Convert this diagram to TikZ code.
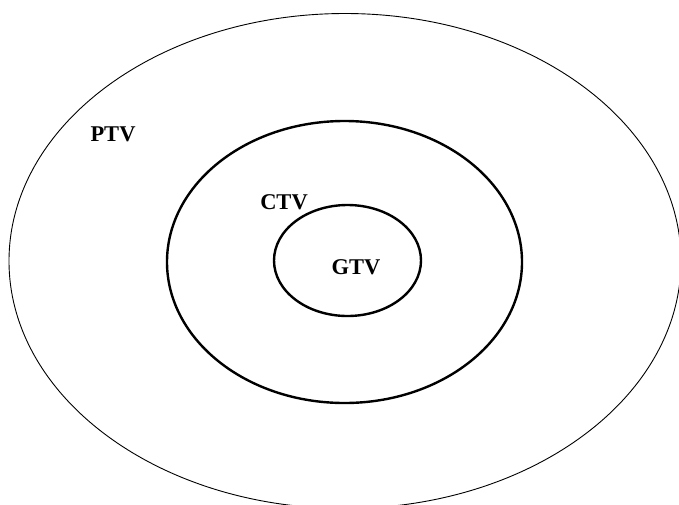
\documentclass[tikz,border=0pt]{standalone}
\usepackage{fontspec}
\setmainfont{Liberation Serif}
\usetikzlibrary{calc}

\begin{document}
\begin{tikzpicture}[x=1pt,y=-1pt,inner sep=0pt,
  lbl/.style={font=\fontsize{22.5}{26}\selectfont\bfseries}]
\useasboundingbox (0,0) rectangle (679,504);
\clip (0,0) rectangle (679,504);
\coordinate (c0) at (345, 261);
\coordinate (c1) at (344.5, 262);
\coordinate (c2) at (347.5, 260.5);

\draw[line width=0.9pt] (c0) ellipse [x radius=336, y radius=247.5];
\draw[line width=2.4pt] (c1) ellipse [x radius=177.5, y radius=141];
\draw[line width=2.4pt] (c2) ellipse [x radius=73.5, y radius=55.5];

\node[lbl] (ptv) at (113, 134) {PTV};
\node[lbl] (ctv) at (284, 202) {CTV};
\node[lbl] (gtv) at (356, 267) {GTV};
\end{tikzpicture}
\end{document}
